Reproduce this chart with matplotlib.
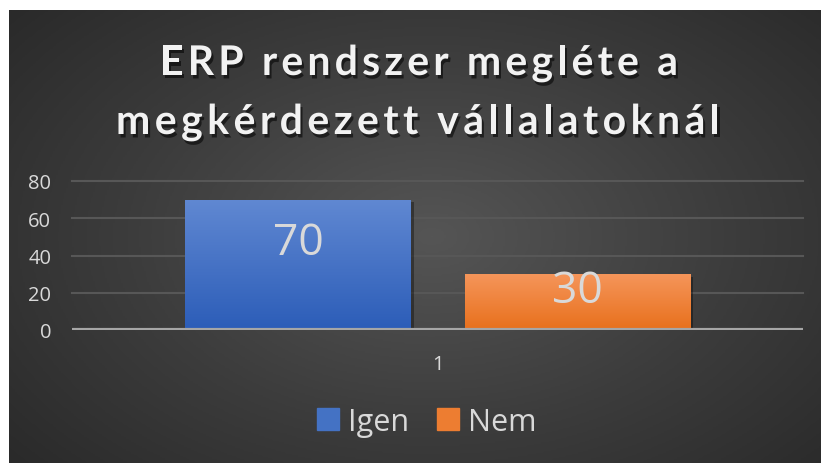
import numpy as np
import matplotlib
matplotlib.use("Agg")
import matplotlib.pyplot as plt
import matplotlib.patheffects as pe
from matplotlib.colors import LinearSegmentedColormap
from matplotlib import font_manager
from matplotlib.ft2font import FT2Font

# ---- data ----
categories = ["1"]
series_names = ["Igen", "Nem"]
series_values = [70, 30]
yticks = [0, 20, 40, 60, 80]
title_lines = ["ERP rendszer megléte a", "megkérdezett vállalatoknál"]

bar_top_colors = ["#6088d2", "#f5955a"]
bar_bot_colors = ["#2c5db8", "#e8701c"]
bar_colors = ["#4472c4", "#ed7d31"]

FONT = "Open Sans"
TFONT = "Lato"
DPI = 100
W, H = 821, 464
fig = plt.figure(figsize=(W / DPI, H / DPI), dpi=DPI, facecolor="white")

# background panel with radial gradient
x0 = 9 / W
bg = fig.add_axes([x0, 0, 1 - x0, 1 - 11 / H])
bg.set_axis_off()
yy, xx = np.mgrid[0:1:300j, 0:1:500j]
r = np.sqrt(((xx - 0.52) / 0.75) ** 2 + ((yy - 0.50) / 0.85) ** 2)
r = np.clip(r, 0, 1)
cmap_bg = LinearSegmentedColormap.from_list("bg", ["#555555", "#3c3c3c", "#262626"])
bg.imshow(r, cmap=cmap_bg, extent=[0, 1, 0, 1], aspect="auto", origin="lower",
          vmin=0, vmax=1)
bg.set_xlim(0, 1)
bg.set_ylim(0, 1)

# main axes
L, R = 72 / W, 803 / W
B, T = 1 - 331 / H, 1 - 182 / H
ax = fig.add_axes([L, B, R - L, T - B])
ax.patch.set_alpha(0)
ax.set_xlim(-0.5, 0.5)
ax.set_ylim(0, 80)
ax.set_yticks(yticks)
ax.set_yticklabels([str(v) for v in yticks], fontsize=14.5, color="#d9d9d9", family=FONT)
ax.set_xticks([0])
ax.set_xticklabels(categories, fontsize=14.5, color="#d9d9d9", family=FONT)
ax.tick_params(axis="y", length=0, pad=15)
ax.tick_params(axis="x", length=0, pad=17)
for s in ax.spines.values():
    s.set_visible(False)
for v in yticks[1:]:
    ax.axhline(v, color="#575757", lw=1.5, zorder=0.5, clip_on=False)

width = 0.309
offsets = [-0.191, 0.1915]
label_drop = [23.3, 9.1]
for i, (name, val) in enumerate(zip(series_names, series_values)):
    bars = ax.bar(offsets[i], val, width=width, color=bar_colors[i], label=name, zorder=2,
                  path_effects=[pe.SimplePatchShadow(offset=(2, -2), shadow_rgbFace="black", alpha=0.35),
                                pe.Normal()])
    b = bars[0]
    cm = LinearSegmentedColormap.from_list("g%d" % i, [bar_bot_colors[i], bar_top_colors[i]])
    grad = np.linspace(0, 1, 100).reshape(-1, 1)
    im = ax.imshow(grad, cmap=cm, extent=[b.get_x(), b.get_x() + b.get_width(), 0, val],
                   aspect="auto", origin="lower", zorder=2.5)
    im.set_clip_path(b)
    ax.text(offsets[i], val - label_drop[i], str(val), ha="center", va="center",
            fontsize=32, color="#d9d9d9", family=FONT, zorder=4)

ax.axhline(0, color="#a6a6a6", lw=3, zorder=3)


# letter-spaced title
def spaced_text(s, cx, baseline, target_w, size, family, weight):
    fp = font_manager.FontProperties(family=family, weight=weight, size=size)
    f = FT2Font(font_manager.findfont(fp))
    f.set_size(size, DPI)
    adv = []
    for ch in s:
        g = f.load_char(ord(ch))
        adv.append(g.linearHoriAdvance / 65536)
    natural = sum(adv)
    sp = (target_w - natural) / (len(s) - 1)
    x = cx - target_w / 2
    shadow = [pe.SimplePatchShadow(offset=(1.5, -2.5), shadow_rgbFace="black", alpha=0.55), pe.Normal()]
    for ch, a in zip(s, adv):
        if ch != " ":
            fig.text(x / W, 1 - baseline / H, ch, ha="left", va="baseline", fontproperties=fp,
                     color="#f2f2f2", path_effects=shadow)
        x += a + sp


spaced_text(title_lines[0], 419, 76, 518, 29.5, TFONT, "bold")
spaced_text(title_lines[1], 418, 135, 604, 29.5, TFONT, "bold")

# legend
handles = [plt.Rectangle((0, 0), 1, 1, color=c) for c in bar_colors]
leg = fig.legend(handles, series_names, loc="center", bbox_to_anchor=(427 / W, 1 - 423 / H),
                 ncol=2, frameon=False, prop={"family": FONT, "size": 22},
                 labelcolor="#d9d9d9", handlelength=0.72, handleheight=0.72,
                 handletextpad=0.3, columnspacing=0.9)

fig.savefig("out.png", dpi=DPI, facecolor="white")
